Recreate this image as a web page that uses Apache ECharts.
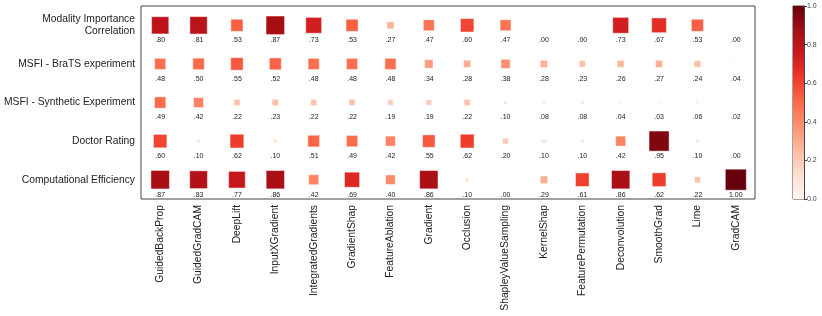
<!DOCTYPE html>
<html>
<head>
<meta charset="utf-8">
<script src="https://cdn.jsdelivr.net/npm/echarts@6/dist/echarts.min.js"></script>
<style>html,body{margin:0;padding:0;background:#fff}#c{width:822px;height:316px}</style>
</head>
<body>
<div id="c"></div>
<script>
const methods = ['GuidedBackProp','GuidedGradCAM','DeepLift','InputXGradient','IntegratedGradients','GradientShap','FeatureAblation','Gradient','Occlusion','ShapleyValueSampling','KernelShap','FeaturePermutation','Deconvolution','SmoothGrad','Lime','GradCAM'];
const metrics = ['Modality Importance\nCorrelation','MSFI - BraTS experiment','MSFI - Synthetic Experiment','Doctor Rating','Computational Efficiency'];
const modalityImportance = [.80,.81,.53,.87,.73,.53,.27,.47,.60,.47,.00,.00,.73,.67,.53,.00];
const msfiBrats =          [.48,.50,.55,.52,.48,.48,.48,.34,.28,.38,.28,.23,.26,.27,.24,.04];
const msfiSynthetic =      [.49,.42,.22,.23,.22,.22,.19,.19,.22,.10,.08,.08,.04,.03,.06,.02];
const doctorRating =       [.60,.10,.62,.10,.51,.49,.42,.55,.62,.20,.10,.10,.42,.95,.10,.00];
const computationalEff =   [.87,.83,.77,.86,.42,.69,.40,.86,.10,.00,.29,.61,.86,.62,.22,1.00];
const colorbarTicks = [0, 0.2, 0.4, 0.6, 0.8, 1.0];
const reds = ['#fff5f0','#fee0d2','#fcbba1','#fc9272','#fb6a4a','#ef3b2c','#cb181d','#a50f15','#67000d'];

const rows = [modalityImportance, msfiBrats, msfiSynthetic, doctorRating, computationalEff];
const data = [];
rows.forEach((r, yi) => r.forEach((v, xi) => data.push([xi, yi, v])));

const fmt = v => v >= 1 ? v.toFixed(2) : v.toFixed(2).replace(/^0/, '');
const FONT = 'Liberation Sans';

const chart = echarts.init(document.getElementById('c'), null, {renderer: 'canvas'});
chart.setOption({
  animation: false,
  textStyle: {fontFamily: FONT},
  grid: [
    {left: 141, top: 6, width: 614, height: 193, show: true, borderColor: '#444', borderWidth: 1,
     backgroundColor: 'transparent', containLabel: false, outerBoundsMode: 'none'},
    {left: 793, top: 6, width: 11, height: 193, show: true, borderColor: '#444', borderWidth: 1,
     containLabel: false, outerBoundsMode: 'none'}
  ],
  xAxis: [
    {type: 'category', data: methods, gridIndex: 0, axisLine: {show: false}, axisTick: {show: false},
     axisLabel: {rotate: 90, fontSize: 10.3, color: '#222', margin: 6, fontFamily: FONT, interval: 0}},
    {type: 'category', data: ['cb'], gridIndex: 1, show: false}
  ],
  yAxis: [
    {type: 'category', data: metrics, inverse: true, gridIndex: 0, axisLine: {show: false}, axisTick: {show: false},
     axisLabel: {fontSize: 10.3, color: '#222', margin: 6, fontFamily: FONT, lineHeight: 12, align: 'right'}},
    {type: 'value', gridIndex: 1, min: 0, max: 1, interval: 0.2, position: 'right',
     axisLine: {show: true, lineStyle: {color: '#444'}}, axisTick: {show: true, length: 3, lineStyle: {color: '#444'}},
     splitLine: {show: false},
     axisLabel: {fontSize: 7, color: '#444', margin: 3, formatter: v => colorbarTicks.includes(+v.toFixed(1)) ? v.toFixed(1) : ''}}
  ],
  visualMap: {
    type: 'continuous', show: false, min: 0, max: 1, dimension: 2, seriesIndex: 0,
    inRange: {color: reds}
  },
  series: [
    {
      type: 'scatter', xAxisIndex: 0, yAxisIndex: 0, symbol: 'rect', data: data,
      symbolSize: v => 2 + 19 * v[2],
      itemStyle: {borderColor: 'rgba(255,255,255,0.45)', borderWidth: 1, opacity: 1},
      label: {show: true, position: 'inside', offset: [0, 15], fontSize: 7, color: '#222', fontFamily: FONT,
              formatter: p => fmt(p.value[2])}
    },
    {
      type: 'bar', xAxisIndex: 1, yAxisIndex: 1, data: [1], barWidth: '100%', silent: true,
      itemStyle: {color: new echarts.graphic.LinearGradient(0, 1, 0, 0,
        reds.map((c, i) => ({offset: i / (reds.length - 1), color: c})))}
    }
  ]
});
</script>
</body>
</html>
